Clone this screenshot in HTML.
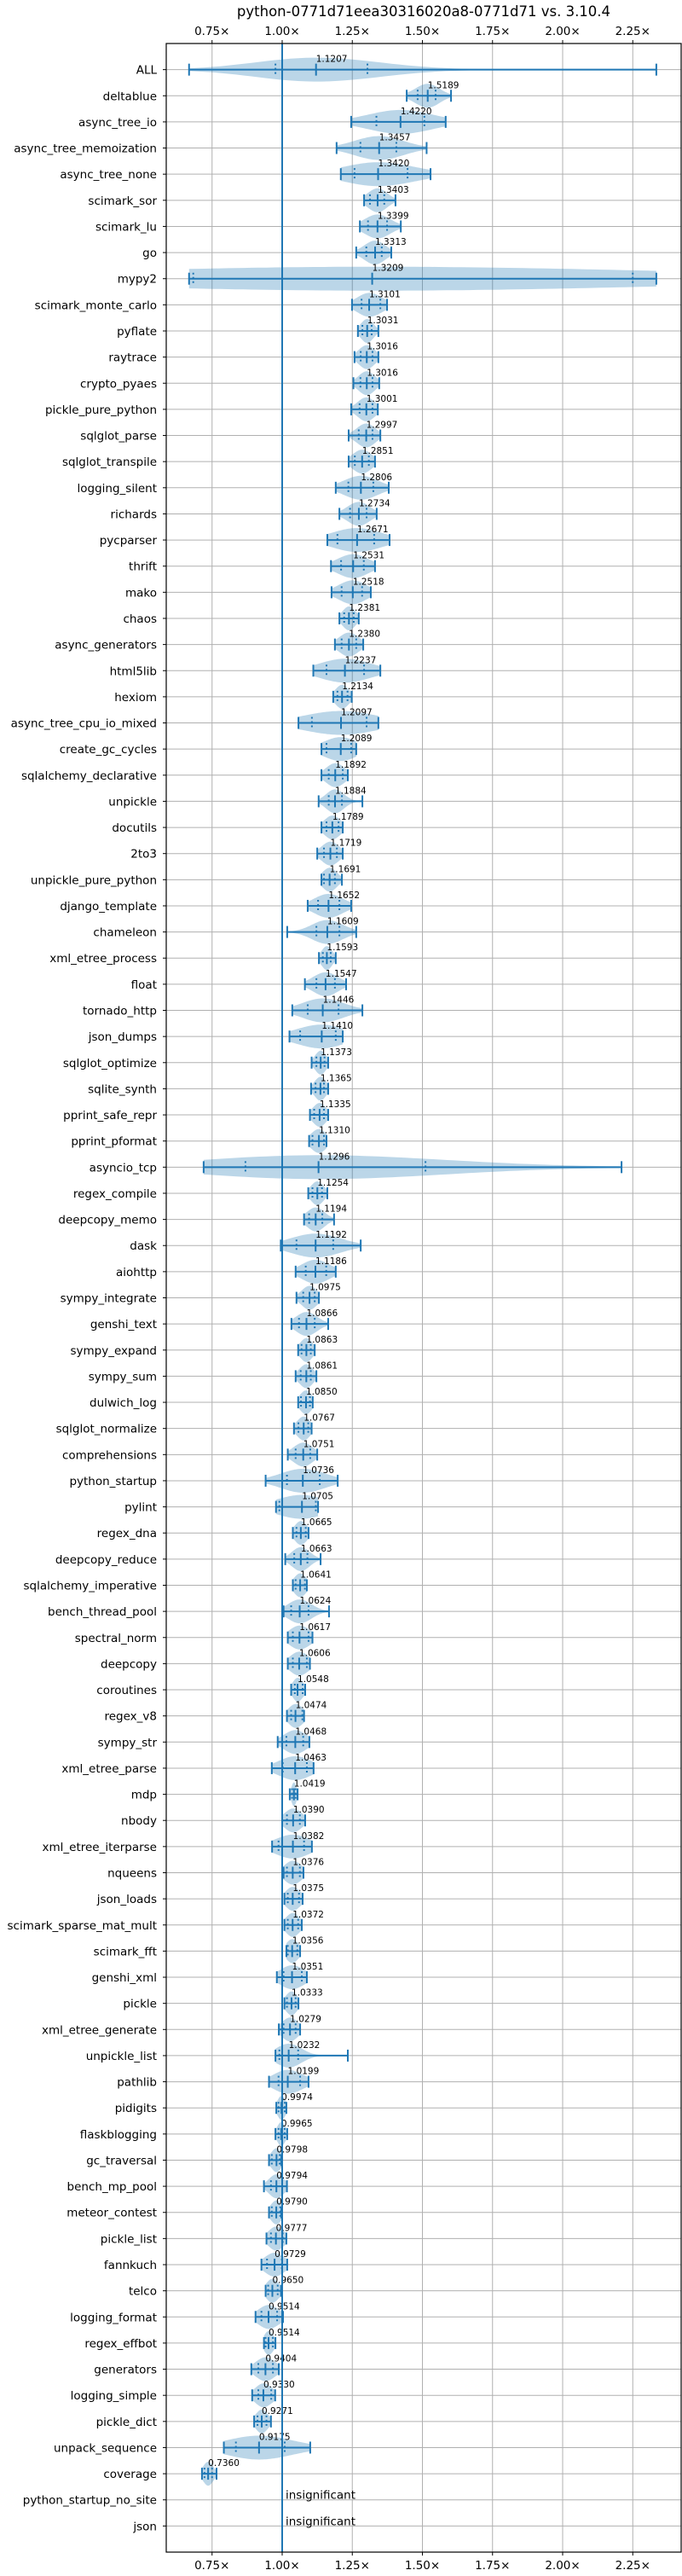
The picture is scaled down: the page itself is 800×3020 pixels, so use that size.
<!DOCTYPE html>
<html><head><meta charset="utf-8">
<style>
html,body{margin:0;padding:0;background:#fff;}
svg{display:block;font-family:"DejaVu Sans","Liberation Sans",sans-serif;}
</style></head>
<body>
<svg id="chart" width="800" height="3020" viewBox="0 0 800 3020" xmlns="http://www.w3.org/2000/svg">
<text x="497" y="19" text-anchor="middle" font-size="16.5" fill="#000">python-0771d71eea30316020a8-0771d71 vs. 3.10.4</text>
<g id="grid"></g>
<g id="marks"></g>
<g id="axes"></g>
</svg>
<script>
const benchmarks = ["ALL","deltablue","async_tree_io","async_tree_memoization","async_tree_none","scimark_sor","scimark_lu","go","mypy2","scimark_monte_carlo","pyflate","raytrace","crypto_pyaes","pickle_pure_python","sqlglot_parse","sqlglot_transpile","logging_silent","richards","pycparser","thrift","mako","chaos","async_generators","html5lib","hexiom","async_tree_cpu_io_mixed","create_gc_cycles","sqlalchemy_declarative","unpickle","docutils","2to3","unpickle_pure_python","django_template","chameleon","xml_etree_process","float","tornado_http","json_dumps","sqlglot_optimize","sqlite_synth","pprint_safe_repr","pprint_pformat","asyncio_tcp","regex_compile","deepcopy_memo","dask","aiohttp","sympy_integrate","genshi_text","sympy_expand","sympy_sum","dulwich_log","sqlglot_normalize","comprehensions","python_startup","pylint","regex_dna","deepcopy_reduce","sqlalchemy_imperative","bench_thread_pool","spectral_norm","deepcopy","coroutines","regex_v8","sympy_str","xml_etree_parse","mdp","nbody","xml_etree_iterparse","nqueens","json_loads","scimark_sparse_mat_mult","scimark_fft","genshi_xml","pickle","xml_etree_generate","unpickle_list","pathlib","pidigits","flaskblogging","gc_traversal","bench_mp_pool","meteor_contest","pickle_list","fannkuch","telco","logging_format","regex_effbot","generators","logging_simple","pickle_dict","unpack_sequence","coverage","python_startup_no_site","json"];
const medians = [1.1207,1.5189,1.4220,1.3457,1.3420,1.3403,1.3399,1.3313,1.3209,1.3101,1.3031,1.3016,1.3016,1.3001,1.2997,1.2851,1.2806,1.2734,1.2671,1.2531,1.2518,1.2381,1.2380,1.2237,1.2134,1.2097,1.2089,1.1892,1.1884,1.1789,1.1719,1.1691,1.1652,1.1609,1.1593,1.1547,1.1446,1.1410,1.1373,1.1365,1.1335,1.1310,1.1296,1.1254,1.1194,1.1192,1.1186,1.0975,1.0866,1.0863,1.0861,1.0850,1.0767,1.0751,1.0736,1.0705,1.0665,1.0663,1.0641,1.0624,1.0617,1.0606,1.0548,1.0474,1.0468,1.0463,1.0419,1.0390,1.0382,1.0376,1.0375,1.0372,1.0356,1.0351,1.0333,1.0279,1.0232,1.0199,0.9974,0.9965,0.9798,0.9794,0.9790,0.9777,0.9729,0.9650,0.9514,0.9514,0.9404,0.9330,0.9271,0.9175,0.7360,null,null];
const mins = [0.668,1.444,1.246,1.194,1.209,1.292,1.277,1.264,0.668,1.249,1.270,1.258,1.254,1.246,1.237,1.237,1.191,1.204,1.161,1.174,1.176,1.204,1.188,1.111,1.182,1.058,1.140,1.140,1.130,1.140,1.125,1.140,1.091,1.018,1.131,1.081,1.036,1.026,1.105,1.103,1.099,1.096,0.720,1.093,1.078,0.995,1.048,1.051,1.033,1.057,1.048,1.057,1.042,1.020,0.941,0.978,1.038,1.011,1.038,1.005,1.020,1.020,1.032,1.017,0.984,0.963,1.027,1.000,0.964,1.005,1.008,1.008,1.015,0.981,1.008,0.988,0.976,0.953,0.979,0.976,0.953,0.935,0.953,0.944,0.926,0.941,0.905,0.935,0.890,0.893,0.900,0.792,0.714,null,null];
const maxs = [2.334,1.602,1.583,1.515,1.529,1.404,1.423,1.389,2.334,1.374,1.343,1.343,1.346,1.341,1.350,1.331,1.380,1.337,1.383,1.331,1.316,1.273,1.289,1.350,1.248,1.343,1.264,1.234,1.286,1.216,1.216,1.213,1.246,1.264,1.191,1.228,1.286,1.216,1.164,1.164,1.164,1.158,2.21,1.161,1.185,1.280,1.191,1.131,1.164,1.116,1.122,1.109,1.105,1.125,1.198,1.128,1.094,1.137,1.088,1.167,1.108,1.099,1.082,1.078,1.097,1.112,1.055,1.082,1.106,1.076,1.073,1.070,1.064,1.088,1.058,1.064,1.234,1.094,1.015,1.018,0.997,1.017,0.997,1.015,1.018,0.996,1.003,0.976,0.988,0.975,0.960,1.100,0.766,null,null];
const q1s = [0.976,1.483,1.336,1.279,1.258,1.313,1.306,1.300,0.683,1.283,1.286,1.280,1.279,1.276,1.273,1.259,1.236,1.242,1.197,1.210,1.212,1.221,1.212,1.158,1.197,1.106,1.158,1.166,1.166,1.158,1.149,1.149,1.128,1.122,1.145,1.122,1.091,1.064,1.122,1.119,1.114,1.108,0.869,1.108,1.096,1.051,1.084,1.075,1.060,1.069,1.066,1.067,1.058,1.048,1.017,0.990,1.051,1.043,1.048,1.032,1.038,1.038,1.045,1.032,1.015,1.002,1.035,1.017,0.987,1.017,1.020,1.020,1.020,1.005,1.017,1.005,0.990,0.987,0.987,0.987,0.963,0.960,0.963,0.960,0.946,0.950,0.926,0.941,0.915,0.915,0.912,0.835,0.723,null,null];
const q3s = [1.304,1.547,1.507,1.407,1.447,1.364,1.374,1.355,2.25,1.350,1.319,1.322,1.322,1.322,1.322,1.309,1.325,1.301,1.328,1.291,1.285,1.255,1.264,1.292,1.233,1.301,1.246,1.216,1.213,1.201,1.195,1.188,1.204,1.204,1.173,1.188,1.201,1.191,1.151,1.149,1.149,1.149,1.511,1.142,1.143,1.182,1.157,1.116,1.116,1.102,1.102,1.099,1.093,1.100,1.134,1.120,1.084,1.090,1.081,1.094,1.094,1.088,1.073,1.072,1.075,1.088,1.048,1.063,1.078,1.063,1.060,1.057,1.054,1.070,1.048,1.048,1.057,1.064,1.009,1.009,0.991,1.000,0.993,1.002,0.999,0.984,0.982,0.967,0.967,0.961,0.944,1.009,0.750,null,null];
const xTicks = [0.75,1.00,1.25,1.50,1.75,2.00,2.25];
const xTickLabels = ["0.75×","1.00×","1.25×","1.50×","1.75×","2.00×","2.25×"];

const NS = "http://www.w3.org/2000/svg";
const PL = 195, PR = 799, PT = 51, PB = 2992;
const BLUE = "#1f77b4";
function xs(v){ return 331 + (v - 1) * 329; }
function ys(i){ return PT + (i + 1) * (PB - PT) / (benchmarks.length + 1); }
function mk(parent, tag, attrs){ const e = document.createElementNS(NS, tag); for (const k in attrs) e.setAttribute(k, attrs[k]); parent.appendChild(e); return e; }

const grid = document.getElementById('grid');
const marks = document.getElementById('marks');
const axes = document.getElementById('axes');

xTicks.forEach((t, k) => {
  const l = mk(grid, 'line', {x1: xs(t), x2: xs(t), y1: PT, y2: PB, stroke: '#b0b0b0', 'stroke-width': 1});
  
  
});
benchmarks.forEach((b, i) => {
  const l = mk(grid, 'line', {x1: PL, x2: PR, y1: ys(i), y2: ys(i), stroke: '#b0b0b0', 'stroke-width': 1});
  
  
});

const HW = 14;
benchmarks.forEach((b, i) => {
  const y = ys(i);
  const g = mk(marks, 'g', {});
  
  
  if (medians[i] === null) {
    const r = mk(g, 'line', {x1: xs(1), x2: xs(1), y1: y - 8, y2: y + 8, stroke: '#bcd3e8', 'stroke-width': 2});
    
    
    const t = mk(g, 'text', {x: xs(1) + 4, y: y - 1, 'font-size': 13.5, fill: '#000'});
    t.textContent = 'insignificant';
    
    
    return;
  }
  const mn = mins[i], mx = maxs[i], md = medians[i], a = q1s[i], c = q3s[i];
  const sig = Math.max((c - a) * 0.55, (mx - mn) * 0.09, 0.004);
  const centers = [a, md, md, c];
  const N = 60, pts = [], dens = [];
  let peak = 0;
  for (let k = 0; k <= N; k++) {
    const v = mn + (mx - mn) * k / N;
    let d = 0; centers.forEach(cc => { d += Math.exp(-0.5 * Math.pow((v - cc) / sig, 2)); });
    d += 0.06;
    dens.push(d); pts.push(v); if (d > peak) peak = d;
  }
  let top = '', bot = '';
  for (let k = 0; k <= N; k++) {
    const w = HW * dens[k] / peak;
    top += (k ? 'L' : 'M') + xs(pts[k]).toFixed(1) + ',' + (y - w).toFixed(1);
  }
  for (let k = N; k >= 0; k--) {
    const w = HW * dens[k] / peak;
    bot += 'L' + xs(pts[k]).toFixed(1) + ',' + (y + w).toFixed(1);
  }
  const p = mk(g, 'path', {d: top + bot + 'Z', fill: BLUE, 'fill-opacity': 0.3, stroke: 'none'});
  
  
  const h = mk(g, 'line', {x1: xs(mn), x2: xs(mx), y1: y, y2: y, stroke: BLUE, 'stroke-width': 2});
  
  
  [mn, mx, md].forEach(v => {
    const c1 = mk(g, 'line', {x1: xs(v), x2: xs(v), y1: y - 7, y2: y + 7, stroke: BLUE, 'stroke-width': 2});
    
    
  });
  [a, c].forEach(v => {
    const q = mk(g, 'line', {x1: xs(v), x2: xs(v), y1: y - 7, y2: y + 7, stroke: BLUE, 'stroke-width': 2, 'stroke-dasharray': '2,3'});
    
    
  });
  const t = mk(g, 'text', {x: xs(md), y: y - 9, 'font-size': 10.5, fill: '#000'});
  t.textContent = md.toFixed(4);
  
  
});

const ref = mk(marks, 'line', {x1: xs(1), x2: xs(1), y1: PT, y2: PB, stroke: BLUE, 'stroke-width': 2});



const frame = mk(axes, 'rect', {x: PL, y: PT, width: PR - PL, height: PB - PT, fill: 'none', stroke: '#000', 'stroke-width': 1.2});



xTicks.forEach((t, k) => {
  const x = xs(t);
  [[PT, PT - 4, PT - 10, 'top'], [PB, PB + 4, PB + 20, 'bottom']].forEach(s => {
    const tk = mk(axes, 'line', {x1: x, x2: x, y1: s[0], y2: s[1], stroke: '#000', 'stroke-width': 1});
    
    
    const lb = mk(axes, 'text', {x: x, y: s[2], 'text-anchor': 'middle', 'font-size': 13.5, fill: '#000'});
    lb.textContent = xTickLabels[k];
    
    
  });
});

benchmarks.forEach((b, i) => {
  const y = ys(i);
  const tk = mk(axes, 'line', {x1: PL - 4, x2: PL, y1: y, y2: y, stroke: '#000', 'stroke-width': 1});
  
  
  const lb = mk(axes, 'text', {x: PL - 11, y: y + 5, 'text-anchor': 'end', 'font-size': 13.5, fill: '#000'});
  lb.textContent = b;
  
  
});
</script>
</body></html>
